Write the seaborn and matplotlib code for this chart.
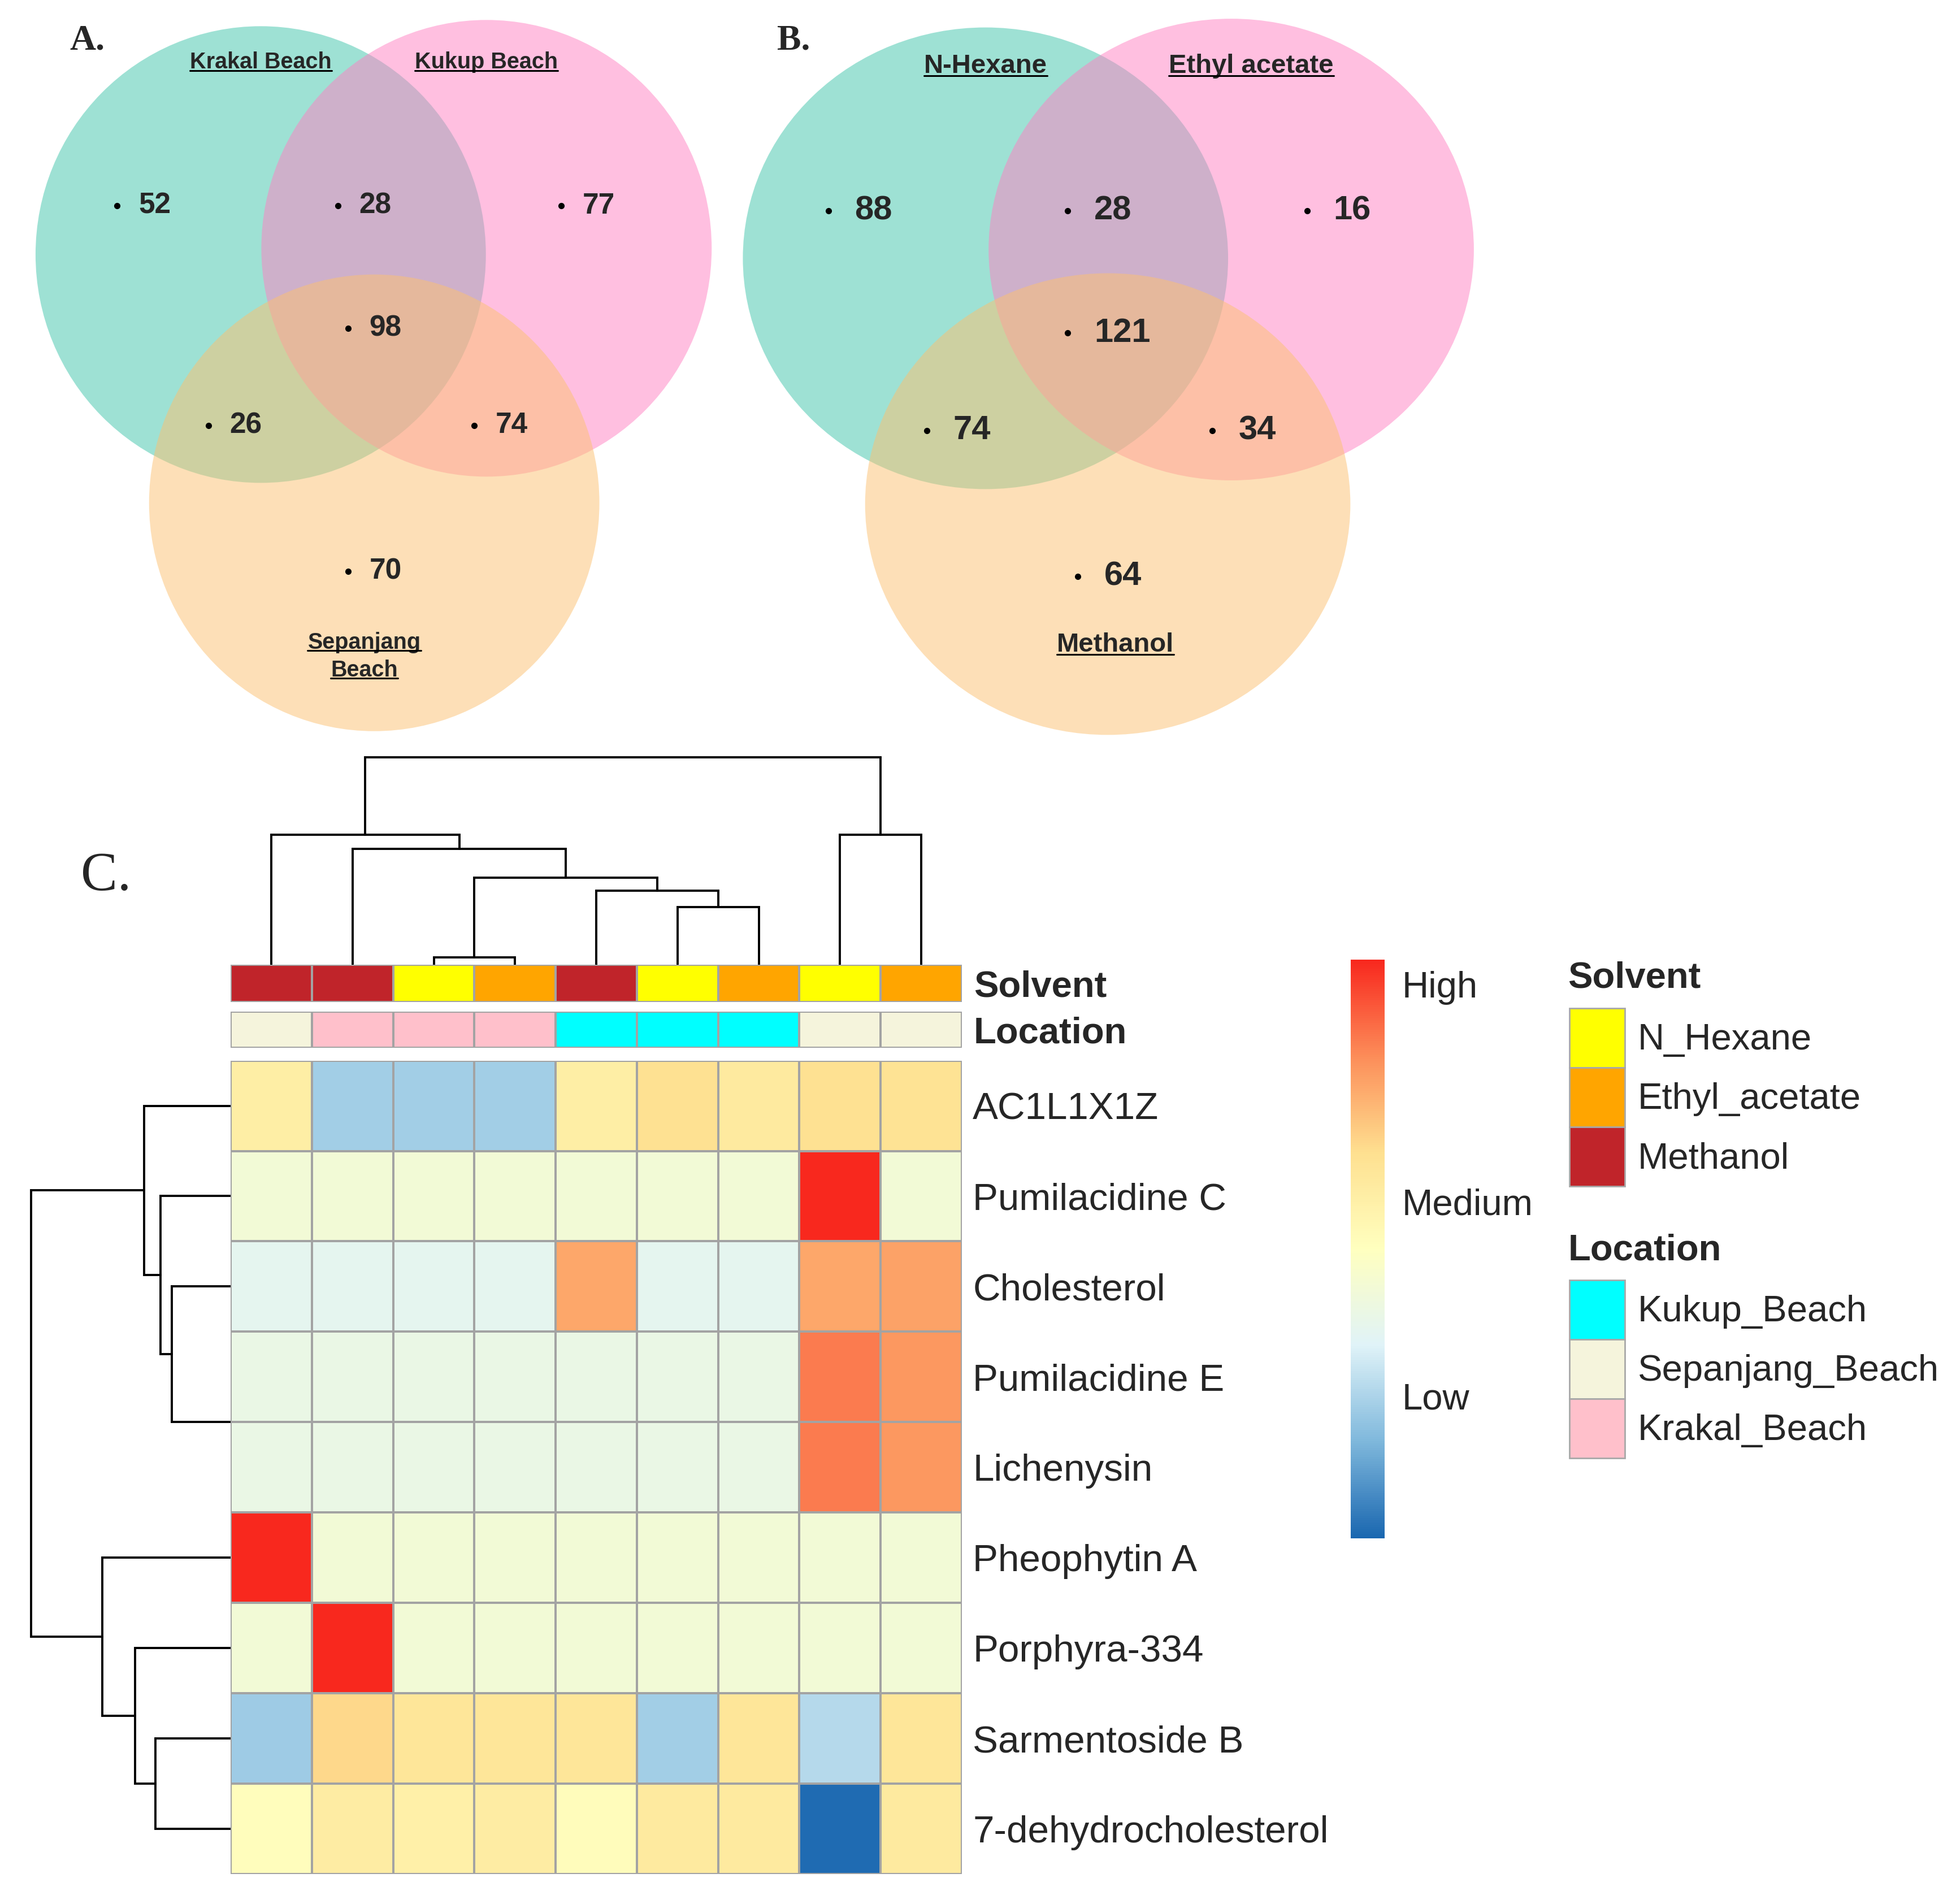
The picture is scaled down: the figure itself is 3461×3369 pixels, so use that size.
import matplotlib
matplotlib.use("Agg")
import numpy as np
import pandas as pd
import matplotlib.pyplot as plt
import seaborn as sns
from matplotlib.colors import LinearSegmentedColormap, ListedColormap
from matplotlib.patches import Ellipse, Patch
from matplotlib.lines import Line2D

# ---------------- data ----------------
# Venn counts, order: only1, 1&2, only2, 1&2&3, 1&3, 2&3, only3
venn_a_labels = ["Krakal Beach", "Kukup Beach", "Sepanjang", "Beach"]
venn_a_counts = [52, 28, 77, 98, 26, 74, 70]
venn_b_labels = ["N-Hexane", "Ethyl acetate", "Methanol"]
venn_b_counts = [88, 28, 16, 121, 74, 34, 64]

compounds = ["AC1L1X1Z", "Pumilacidine C", "Cholesterol", "Pumilacidine E", "Lichenysin",
             "Pheophytin A", "Porphyra-334", "Sarmentoside B", "7-dehydrocholesterol"]
samples = ["MeOH_SB", "MeOH_KB", "Hex_KB", "EA_KB", "MeOH_KuB", "Hex_KuB", "EA_KuB", "Hex_SB", "EA_SB"]
solvent = ["Methanol", "Methanol", "N_Hexane", "Ethyl_acetate", "Methanol",
           "N_Hexane", "Ethyl_acetate", "N_Hexane", "Ethyl_acetate"]
location = ["Sepanjang_Beach", "Krakal_Beach", "Krakal_Beach", "Krakal_Beach", "Kukup_Beach",
            "Kukup_Beach", "Kukup_Beach", "Sepanjang_Beach", "Sepanjang_Beach"]

# relative abundance (0 = low, 1 = high)
ac1l1x1z = [0.59, 0.23, 0.23, 0.23, 0.59, 0.66, 0.61, 0.66, 0.65]
pumilacidine_c = [0.43, 0.43, 0.43, 0.43, 0.43, 0.43, 0.43, 1.00, 0.43]
cholesterol = [0.36, 0.36, 0.36, 0.36, 0.78, 0.36, 0.36, 0.78, 0.79]
pumilacidine_e = [0.39, 0.39, 0.39, 0.39, 0.39, 0.39, 0.39, 0.86, 0.81]
lichenysin = [0.39, 0.39, 0.39, 0.39, 0.39, 0.39, 0.39, 0.86, 0.81]
pheophytin_a = [1.00, 0.43, 0.43, 0.43, 0.43, 0.43, 0.43, 0.43, 0.43]
porphyra_334 = [0.43, 1.00, 0.43, 0.43, 0.43, 0.43, 0.43, 0.43, 0.43]
sarmentoside_b = [0.22, 0.68, 0.635, 0.635, 0.635, 0.23, 0.635, 0.26, 0.635]
dehydrocholesterol = [0.51, 0.60, 0.58, 0.60, 0.515, 0.61, 0.61, 0.01, 0.61]

# dendrograms: (left id, right id, height) ; leaves 0..8, merge k -> id 9+k
col_merges = [(2, 3, 0.033), (5, 6, 0.277), (4, 10, 0.355), (9, 11, 0.42),
              (1, 12, 0.557), (0, 13, 0.627), (7, 8, 0.627), (14, 15, 1.0)]
row_merges = [(3, 4, 0.0), (2, 9, 0.30), (1, 10, 0.356), (0, 11, 0.4375),
              (7, 8, 0.381), (6, 13, 0.484), (5, 14, 0.646), (12, 15, 1.0)]

solvent_order = ["N_Hexane", "Ethyl_acetate", "Methanol"]
solvent_colors = ["#ffff00", "#ffa500", "#c0242a"]
location_order = ["Kukup_Beach", "Sepanjang_Beach", "Krakal_Beach"]
location_colors = ["#00ffff", "#f5f4dc", "#ffc0cb"]

# ---------------- figure ----------------
sns.set_theme(style="white")
plt.rcParams["font.family"] = ["Liberation Sans", "DejaVu Sans"]

FW, FH = 3461, 3369
W, H = 1568.0, 1526.0  # layout grid (reference preview coordinates)
fig = plt.figure(figsize=(FW / 100, FH / 100), dpi=100)


def box(x0, y0, x1, y1):
    return [x0 / W, 1 - y1 / H, (x1 - x0) / W, (y1 - y0) / H]


# overlay axes for the Venn panels and panel letters
ov = fig.add_axes([0, 0, 1, 1])
ov.set_xlim(0, W)
ov.set_ylim(H, 0)
ov.axis("off")

venn_fill = ["#3fc5aa", "#ff80c2", "#fcc170"]


def venn(ax, circles, counts, spots, size, gap):
    for (cx, cy, w, h), c in zip(circles, venn_fill):
        ax.add_patch(Ellipse((cx, cy), w, h, facecolor=c, alpha=0.5, edgecolor="none"))
    for n, (x, y) in zip(counts, spots):
        ax.plot([x], [y], "o", color="black", ms=7)
        ax.text(x + gap, y, str(n), fontsize=size, fontweight="bold", ha="left", va="center")


venn(ov, [(209, 204, 361, 366), (390, 199, 361, 366), (300, 403, 361, 366)], venn_a_counts,
     [(94, 165), (271, 165), (450, 165), (279, 263), (167, 341), (380, 341), (279, 458)], 37, 17)
venn(ov, [(790, 207, 389, 370), (987, 200, 389, 370), (888, 404, 389, 370)], venn_b_counts,
     [(664, 169), (856, 169), (1048, 169), (856, 267), (743, 345), (972, 345), (864, 462)], 43, 21)

ul_texts = []
for lab, (x, y) in zip(venn_a_labels, [(209, 50), (390, 50), (292, 515), (292, 537)]):
    ul_texts.append(ov.text(x, y, lab, fontsize=28.5, fontweight="bold", ha="center", va="center"))
for lab, (x, y) in zip(venn_b_labels, [(790, 53), (1003, 53), (894, 517)]):
    ul_texts.append(ov.text(x, y, lab, fontsize=34, fontweight="bold", ha="center", va="center"))

serif = ["Liberation Serif", "DejaVu Serif"]
ov.text(70, 33, "A.", fontsize=46, fontweight="bold", family=serif, ha="center", va="center")
ov.text(636, 33, "B.", fontsize=46, fontweight="bold", family=serif, ha="center", va="center")
ov.text(85, 703, "C.", fontsize=70, family=serif, ha="center", va="center")

# ---------------- heatmap ----------------
data = pd.DataFrame([ac1l1x1z, pumilacidine_c, cholesterol, pumilacidine_e, lichenysin,
                     pheophytin_a, porphyra_334, sarmentoside_b, dehydrocholesterol],
                    index=compounds, columns=samples)

cmap = LinearSegmentedColormap.from_list(
    "heat", ["#1a67b0", "#7fb8dc", "#e0f3f8", "#ffffbf", "#fee090", "#fc8d59", "#f8281e"])
grid = "#a3a3a3"
FS = 47

# row dendrogram goes underneath the heatmap
ax_rd = fig.add_axes(box(18, 850, 186, 1502))

ax_h = fig.add_axes(box(185, 850, 771, 1502))
cax = fig.add_axes(box(1083, 769, 1110, 1233))
sns.heatmap(data, ax=ax_h, cmap=cmap, vmin=0, vmax=1, linewidths=1.6, linecolor=grid,
            xticklabels=False, yticklabels=True, cbar_ax=cax,
            cbar_kws={"ticks": [0.246, 0.582, 0.957]})
ax_h.yaxis.tick_right()
ax_h.set_yticklabels(compounds, rotation=0, fontsize=48.5)
ax_h.tick_params(axis="y", length=0, pad=14, labelright=True, labelleft=False)
ax_h.set_xlabel("")
ax_h.set_ylabel("")

cbar = ax_h.collections[0].colorbar
cbar.outline.set_visible(False)
cbar.set_ticklabels(["Low", "Medium", "High"])
cax.tick_params(length=0, labelsize=FS, pad=22)

# annotation bars
for name, vals, order, cols, (y0, y1) in [
        ("Solvent", solvent, solvent_order, solvent_colors, (773, 803)),
        ("Location", location, location_order, location_colors, (811, 840))]:
    ax_a = fig.add_axes(box(185, y0, 771, y1))
    codes = pd.DataFrame([[order.index(v) for v in vals]], index=[name], columns=samples)
    sns.heatmap(codes, ax=ax_a, cmap=ListedColormap(cols), vmin=-0.5, vmax=len(cols) - 0.5,
                linewidths=1.6, linecolor=grid, cbar=False, xticklabels=False, yticklabels=True)
    ax_a.yaxis.tick_right()
    ax_a.set_yticklabels([name], rotation=0, fontsize=FS, fontweight="bold")
    ax_a.tick_params(axis="y", length=0, pad=15, labelright=True, labelleft=False)
    ax_a.set_xlabel("")
    ax_a.set_ylabel("")


# dendrograms
def draw_dendro(ax, merges, n, side):
    pos = {i: i + 0.5 for i in range(n)}
    hgt = {i: 0.0 for i in range(n)}
    for k, (a, b, h) in enumerate(merges):
        xs = [pos[a], pos[a], pos[b], pos[b]]
        ys = [hgt[a], h, h, hgt[b]]
        if side == "top":
            ax.plot(xs, ys, color="black", lw=2.8, solid_joinstyle="miter")
        else:
            ax.plot(ys, xs, color="black", lw=2.8, solid_joinstyle="miter")
        pos[n + k] = (pos[a] + pos[b]) / 2
        hgt[n + k] = h
    ax.axis("off")


ax_cd = fig.add_axes(box(185, 600, 771, 773))
draw_dendro(ax_cd, col_merges, len(samples), "top")
ax_cd.set_xlim(0, len(samples))
ax_cd.set_ylim(0, (773 - 600) / (773 - 607))

# zero height sits just under the heatmap edge so the 0-height join stays hidden
draw_dendro(ax_rd, row_merges, len(compounds), "left")
ax_rd.set_ylim(len(compounds), 0)
ax_rd.set_xlim((186 - 18) / (186 - 25), 0)

# legends (title drawn as text, boxes stacked underneath)
for title, order, cols, ttl_y, top in [("Solvent", solvent_order, solvent_colors, 784, 808),
                                       ("Location", location_order, location_colors, 1002, 1026)]:
    ov.text(1257, ttl_y, title, fontsize=FS, fontweight="bold", ha="left", va="center")
    handles = [Patch(facecolor=c, edgecolor="#a8a8a8", lw=2, label=l) for l, c in zip(order, cols)]
    fig.legend(handles=handles, loc="upper left",
               bbox_to_anchor=(1258 / W, 1 - top / H), frameon=False, fontsize=FS,
               handlelength=1.5, handleheight=2.1, labelspacing=0, handletextpad=0.35,
               borderpad=0, borderaxespad=0)

# underline the Venn set names
fig.canvas.draw()
rend = fig.canvas.get_renderer()
for t in ul_texts:
    bb = t.get_window_extent(rend)
    y = bb.y0 + 0.12 * bb.height
    fig.add_artist(Line2D([bb.x0 / FW, bb.x1 / FW], [y / FH, y / FH],
                          transform=fig.transFigure, color="black", lw=2.2))

fig.savefig("out.png", dpi=100)
